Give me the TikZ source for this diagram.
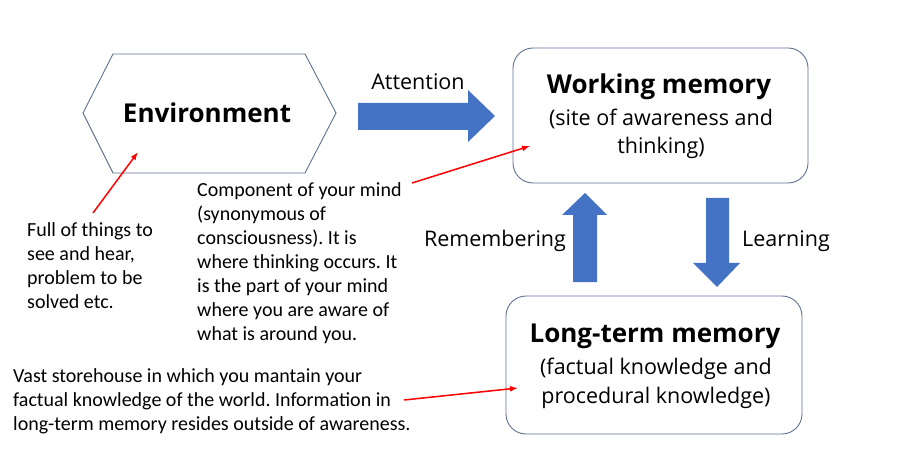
\documentclass[tikz,border=0pt]{standalone}
\usepackage{fontspec}
\usetikzlibrary{arrows.meta}
\setmainfont{Carlito}
\newfontfamily\boxfont{Open Sans}
\definecolor{arrowblue}{HTML}{4472C4}
\definecolor{boxedge}{HTML}{5E7090}
\frenchspacing
\begin{document}
\begin{tikzpicture}[x=1pt,y=-1pt,
  note/.style={font=\fontsize{20}{24}\selectfont, align=left, inner sep=0pt, anchor=west},
  boxtitle/.style={font=\boxfont\bfseries\fontsize{26}{30}\selectfont, inner sep=0pt},
  boxsub/.style={font=\boxfont\fontsize{21.5}{28.5}\selectfont, inner sep=0pt, align=center},
  blockarrow/.style={fill=arrowblue, draw=none},
  memorybox/.style={draw=boxedge, line width=0.9pt, rounded corners=20pt},
  callout/.style={draw=red, line width=1.5pt, -{Latex[length=8pt,width=6pt]}},
  lbl/.style={font=\boxfont\fontsize{21.5}{24}\selectfont, inner sep=0pt}]
\useasboundingbox (0,0) rectangle (899,462);
% environment hexagon
\draw[boxedge, line width=0.9pt] (83,113) -- (113,54) -- (305,54) -- (336,113) -- (305,173) -- (113,173) -- cycle;
\node[boxtitle] (env) at (207,113) {Environment};
% working memory
\draw[memorybox] (513,48) rectangle (808,183);
\node[boxtitle] (wm) at (659,87) {Working memory};
\node[boxsub] (wmsub) at (661,134) {(site of awareness and\\thinking)};
% long-term memory
\draw[memorybox] (506,296) rectangle (802,434);
\node[boxtitle] (ltm) at (655,336) {Long-term memory};
\node[boxsub] (ltmsub) at (656,383.5) {(factual knowledge and\\procedural knowledge)};
% block arrows
\fill[blockarrow] (358,103) -- (468,103) -- (468,90) -- (495,116) -- (468,142) -- (468,130) -- (358,130) -- cycle;
\node[lbl] (att) at (418,82) {Attention};
\fill[blockarrow] (573,282) -- (573,215) -- (562,215) -- (585,193) -- (607,215) -- (597,215) -- (597,282) -- cycle;
\node[lbl] (rem) at (495,241) {Remembering};
\fill[blockarrow] (706,198) -- (729,198) -- (729,263) -- (740,263) -- (717,287) -- (693,263) -- (706,263) -- cycle;
\node[lbl] (learn) at (786,241) {Learning};
% notes
\node[note] (n1) at (27,266) {Full of things to\\see and hear,\\problem to be\\solved etc.};
\node[note] (n2) at (197,263) {Component of your mind\\(synonymous of\\consciousness). It is\\where thinking occurs. It\\is the part of your mind\\where you are aware of\\what is around you.};
\node[note] (n3) at (13,401) {Vast storehouse in which you mantain your\\factual knowledge of the world. Information in\\long-term memory resides outside of awareness.};
% callouts
\coordinate (s1) at (93,213);
\coordinate (t1) at (138,152);
\coordinate (s2) at (412,183);
\coordinate (t2) at (530,146);
\coordinate (s3) at (404,400);
\coordinate (t3) at (518,388);
\draw[callout] (s1) -- (t1);
\draw[callout] (s2) -- (t2);
\draw[callout] (s3) -- (t3);
\end{tikzpicture}
\end{document}
